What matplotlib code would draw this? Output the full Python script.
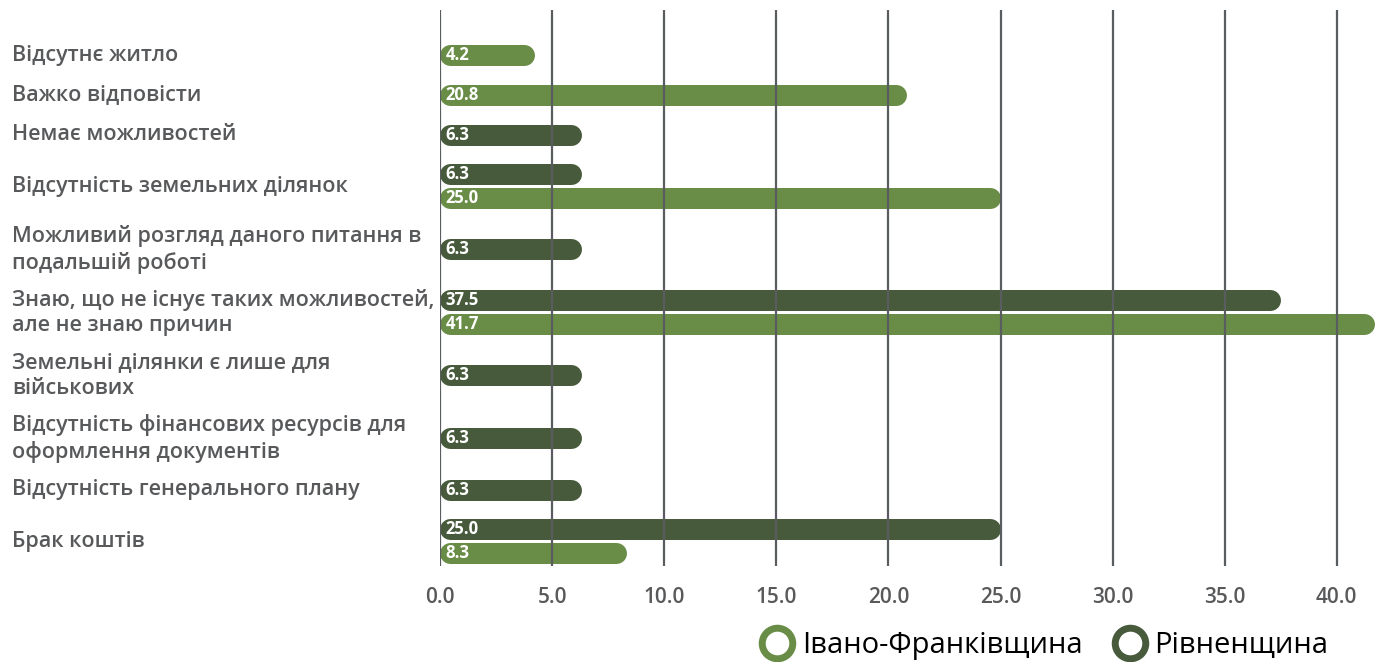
import matplotlib
matplotlib.use("Agg")
import matplotlib.pyplot as plt
from matplotlib.lines import Line2D

plt.rcParams['font.family'] = ['Open Sans', 'DejaVu Sans']

categories = [
    "Відсутнє житло",
    "Важко відповісти",
    "Немає можливостей",
    "Відсутність земельних ділянок",
    "Можливий розгляд даного питання в\nподальшій роботі",
    "Знаю, що не існує таких можливостей,\nале не знаю причин",
    "Земельні ділянки є лише для\nвійськових",
    "Відсутність фінансових ресурсів для\nоформлення документів",
    "Відсутність генерального плану",
    "Брак коштів",
]
# None = no answer from that region
rivne = [None, None, 6.3, 6.3, 6.3, 37.5, 6.3, 6.3, 6.3, 25.0]
ivano = [4.2, 20.8, None, 25.0, None, 41.7, None, None, None, 8.3]
series_names = ["Івано-Франківщина", "Рівненщина"]

LIGHT = "#698d46"
DARK = "#475a3b"
GRID = "#5a5d60"
TEXT = "#58595b"

W, H = 1383, 662
fig = plt.figure(figsize=(W / 100, H / 100), dpi=100)

# axes in pixel layout: x=0 at 440px, 22.42px per unit; y from 10px to 566px
px_per_unit = 22.42
x0_px, top_px, bot_px = 440, 10, 566
xmax = (W - x0_px) / px_per_unit
ax = fig.add_axes([x0_px / W, 1 - bot_px / H, (W - x0_px) / W, (bot_px - top_px) / H])
ax.set_xlim(0, xmax)
ax.set_ylim(bot_px, top_px)
for s in ax.spines.values():
    s.set_visible(False)
ax.set_yticks([])
ax.set_xticks([0, 5, 10, 15, 20, 25, 30, 35, 40])
ax.set_xticklabels([f"{t:.1f}" for t in ax.get_xticks()], fontsize=15,
                   fontweight='semibold', color=TEXT)
ax.tick_params(axis='x', length=0, pad=15)
for t in ax.get_xticks():
    ax.axvline(t, color=GRID, lw=1.6, zorder=5)

# category band centres: compact band for one-line/one-bar rows
y = 55
centres = []
prev_h = None
for name, r, v in zip(categories, rivne, ivano):
    nbars = (r is not None) + (v is not None)
    h = 40 if (nbars == 1 and "\n" not in name) else 63
    if prev_h is not None:
        y += (prev_h + h) / 2
    centres.append(y)
    prev_h = h

bar_px = 21
radius = bar_px / 2 / px_per_unit
lw_pt = bar_px * 0.72

def draw_bar(yc, val, color):
    ax.plot([radius, val - radius], [yc, yc], color=color, lw=lw_pt,
            solid_capstyle='round', zorder=3, clip_on=False)
    ax.text(0.25, yc, f"{val:.1f}", color="white", fontsize=12,
            fontweight='bold', va='center', ha='left', zorder=6)

for name, yc, r, v in zip(categories, centres, rivne, ivano):
    bars = [(r, DARK), (v, LIGHT)]
    bars = [b for b in bars if b[0] is not None]
    offs = [0] if len(bars) == 1 else [-12, 12]
    for (val, col), off in zip(bars, offs):
        draw_bar(yc + off, val, col)
    fig.text(12 / W, 1 - yc / H, name, fontsize=15.5, fontweight='semibold',
             color=TEXT, va='center', ha='left', linespacing=1.3)

handles = [
    Line2D([], [], marker='o', ls='none', markersize=22, markerfacecolor='white',
           markeredgecolor=LIGHT, markeredgewidth=5),
    Line2D([], [], marker='o', ls='none', markersize=22, markerfacecolor='white',
           markeredgecolor=DARK, markeredgewidth=5),
]
fig.legend(handles, series_names, loc='center right', bbox_to_anchor=(1340 / W, 1 - 646 / H),
           ncol=2, frameon=False, handletextpad=0.25, columnspacing=1.0,
           borderaxespad=0, handlelength=1.2,
           prop={'size': 21, 'weight': 'medium'})

fig.savefig("out.png", dpi=100)
